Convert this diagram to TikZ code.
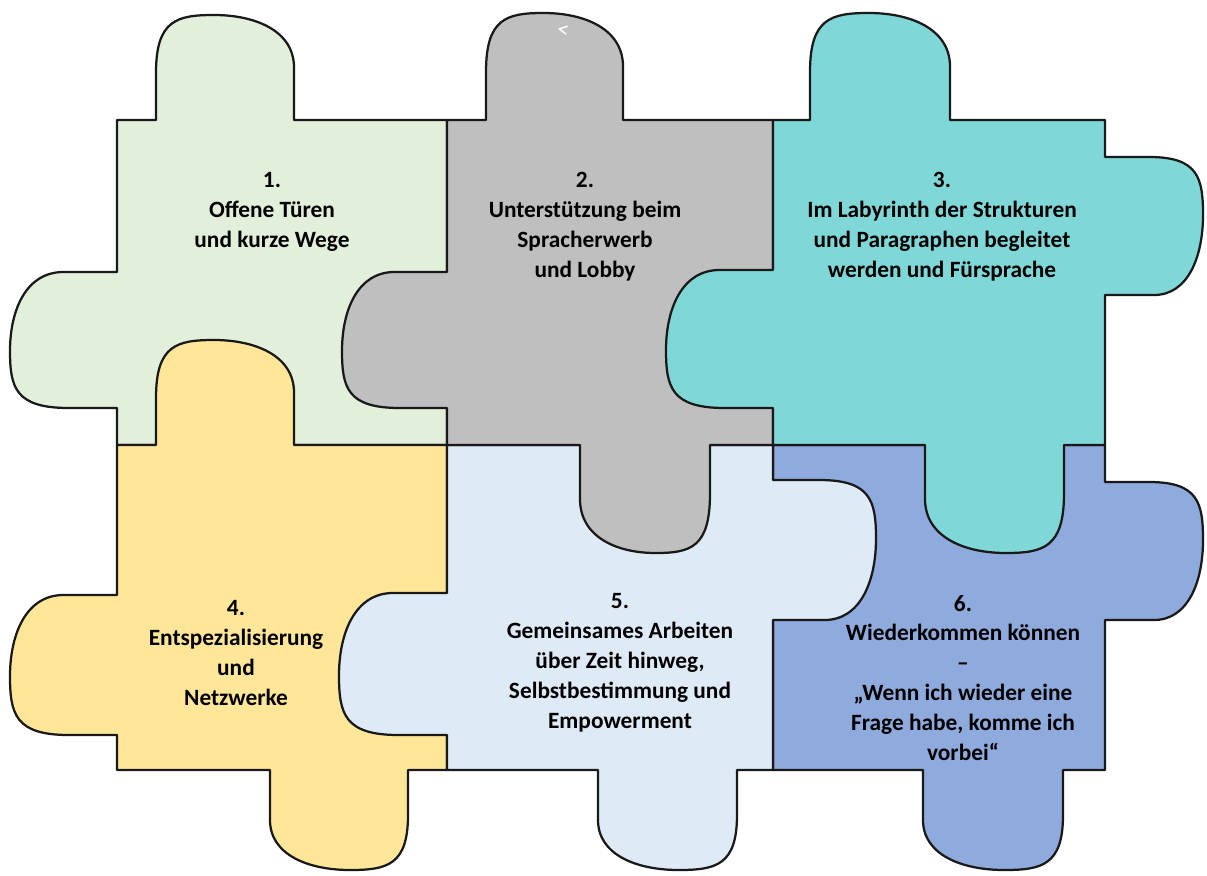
\documentclass[tikz,border=0pt]{standalone}
\usepackage{fontspec}
\setmainfont{Carlito}
\usepackage{xcolor}
\usepackage{tikz}

\definecolor{greenpiece}{HTML}{E2EFDA}
\definecolor{greypiece}{HTML}{BFBFBF}
\definecolor{tealpiece}{HTML}{7FD8D7}
\definecolor{yellowpiece}{HTML}{FFE699}
\definecolor{lightbluepiece}{HTML}{DEEAF6}
\definecolor{bluepiece}{HTML}{8FAADC}

\tikzset{
  piece/.style={draw=black!90, line width=1.6pt, line join=round},
  piecetext/.style={align=center, font=\fontsize{16.6}{21.3}\selectfont\bfseries}
}

% tab on a horizontal edge: from x=#1 to x=#2 on y=#3, tip at y=#4
\newcommand{\htab}[4]{-- (#1,#3) -- (#1,{#3+0.45*(#4-#3)})
  .. controls (#1,{#3+0.95*(#4-#3)}) and ({#1+0.15*(#2-#1)},#4) .. ({#1+0.42*(#2-#1)},#4)
  .. controls ({#1+0.72*(#2-#1)},#4) and (#2,{#3+0.85*(#4-#3)}) .. (#2,{#3+0.5*(#4-#3)})
  -- (#2,#3)}
% tab on a vertical edge: from y=#1 to y=#2 on x=#3, tip at x=#4
\newcommand{\vtab}[4]{-- (#3,#1) -- ({#3+0.45*(#4-#3)},#1)
  .. controls ({#3+0.95*(#4-#3)},#1) and (#4,{#1+0.15*(#2-#1)}) .. (#4,{#1+0.42*(#2-#1)})
  .. controls (#4,{#1+0.72*(#2-#1)}) and ({#3+0.85*(#4-#3)},#2) .. ({#3+0.5*(#4-#3)},#2)
  -- (#3,#2)}

\begin{document}
\begin{tikzpicture}[x=0.025cm, y=-0.025cm]
\useasboundingbox (0,0) rectangle (1207,875);

% pieces, each drawn after the ones its tabs lie over
\draw[piece, fill=greenpiece] (117,120) \htab{156}{294}{120}{15} -- (447,120) -- (447,445)
  -- (117,445) \vtab{408}{272}{117}{10} -- cycle;
\draw[piece, fill=yellowpiece] (117,445) \htab{156}{294}{445}{340} -- (447,445) -- (447,770)
  \htab{408}{270}{770}{870} -- (117,770) \vtab{735}{595}{117}{10} -- cycle;
\draw[piece, fill=bluepiece] (773,445) -- (1105,445) \vtab{482}{620}{1105}{1203} -- (1105,770)
  \htab{1063}{923}{770}{870} -- (773,770) -- cycle;
\draw[piece, fill=lightbluepiece] (447,445) -- (773,445) \vtab{480}{620}{773}{876} -- (773,770)
  \htab{737}{598}{770}{870} -- (447,770) \vtab{735}{593}{447}{339} -- cycle;
\draw[piece, fill=greypiece] (447,120) \htab{486}{623}{120}{13} -- (773,120) -- (773,445)
  \htab{710}{580}{445}{553} -- (447,445) \vtab{408}{272}{447}{342} -- cycle;
\draw[piece, fill=tealpiece] (773,120) \htab{810}{950}{120}{13} -- (1105,120) \vtab{157}{295}{1105}{1203}
  -- (1105,445) \htab{1064}{925}{445}{553} -- (773,445) \vtab{408}{270}{773}{666} -- cycle;

\node[text=white, font=\fontsize{17}{17}\selectfont, rotate=-10] (mark) at (563,31) {<};

\node[piecetext] (doors) at (272,212) {1.\\Offene Türen\\und kurze Wege};
\node[piecetext] (language) at (585,227) {2.\\Unterstützung beim\\Spracherwerb\\und Lobby};
\node[piecetext] (labyrinth) at (942,227) {3.\\Im Labyrinth der Strukturen\\und Paragraphen begleitet\\werden und Fürsprache};
\node[piecetext] (network) at (236,653) {4.\\Entspezialisierung\\und\\Netzwerke};
\node[piecetext] (together) at (620,663) {5.\\Gemeinsames Arbeiten\\über Zeit hinweg,\\Selbstbestimmung und\\Empowerment};
\node[piecetext] (comeback) at (963,678) {6.\\Wiederkommen können\\–\\„Wenn ich wieder eine\\Frage habe, komme ich\\vorbei“};
\end{tikzpicture}
\end{document}
